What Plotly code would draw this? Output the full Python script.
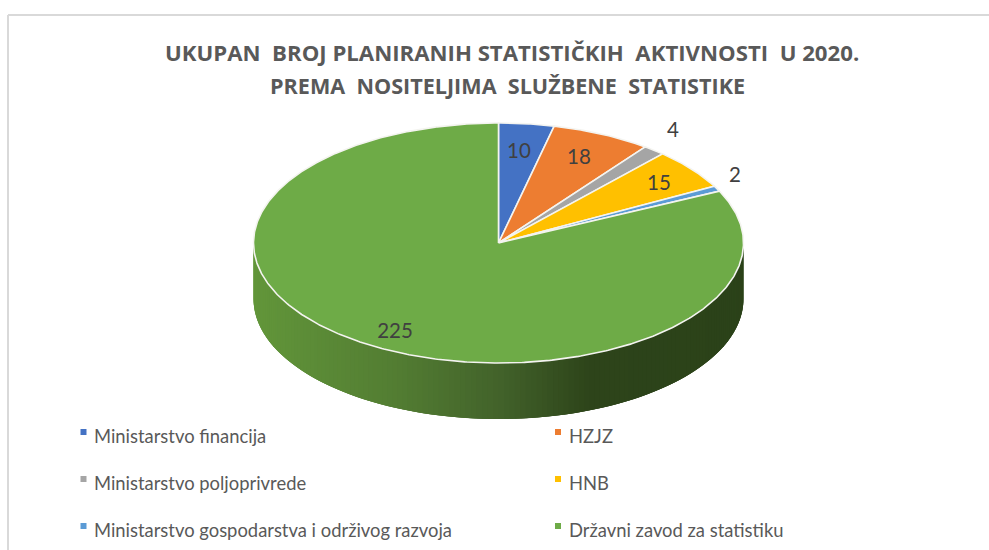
import math
import plotly.graph_objects as go

categories = ["Ministarstvo financija", "HZJZ", "Ministarstvo poljoprivrede", "HNB",
              "Ministarstvo gospodarstva i održivog razvoja", "Državni zavod za statistiku"]
values = [10, 18, 4, 15, 2, 225]
colors = ["#4472C4", "#ED7D31", "#A5A5A5", "#FFC000", "#5B9BD5", "#6EAB47"]
title_lines = ["UKUPAN  BROJ PLANIRANIH STATISTIČKIH  AKTIVNOSTI  U 2020.",
               "PREMA  NOSITELJIMA  SLUŽBENE  STATISTIKE"]

W, H = 989, 550
CX, CY, RX, RY, DEPTH = 498.5, 243, 245, 120, 56
label_pos = [(519, 153), (579, 159), (673, 132), (659, 185), (735, 177), (395, 333)]
legend_pos = [(83.5, 432), (558, 432), (83.5, 479), (558, 479), (83.5, 526), (558, 526)]
title_pos = [(511.5, 52.5), (507.5, 85)]
title_sizes = [22.2, 21.6]
wall_stops = [(253, (98, 150, 58)), (400, (82, 124, 50)), (500, (66, 98, 42)),
              (590, (45, 68, 26)), (745, (43, 66, 25))]


def pt(theta, dy=0.0):
    t = math.radians(theta)
    return CX + RX * math.sin(t), CY - RY * math.cos(t) + dy


def wall_color(x):
    for (x0, c0), (x1, c1) in zip(wall_stops, wall_stops[1:]):
        if x <= x1:
            f = max(0.0, (x - x0) / (x1 - x0))
            return "rgb(%d,%d,%d)" % tuple(round(a + (b - a) * f) for a, b in zip(c0, c1))
    return "rgb(%d,%d,%d)" % wall_stops[-1][1]


fig = go.Figure()

# side wall of the disc, the front half; each strip runs under the next one so no seams show
N = 140
step = 180 / N
for i in range(N):
    a0 = 90 + step * i
    a1 = min(270, a0 + 3 * step)
    angs = [a0, a0 + step, a0 + 2 * step, a1]
    top = [pt(min(a, 270)) for a in angs]
    bottom = [pt(min(a, 270), DEPTH) for a in reversed(angs)]
    p = top + bottom + [top[0]]
    col = wall_color((pt(a0)[0] + pt(a0 + step)[0]) / 2)
    fig.add_trace(go.Scatter(x=[q[0] for q in p], y=[q[1] for q in p], mode="lines",
                             fill="toself", fillcolor=col, line=dict(color=col, width=0),
                             hoverinfo="skip", showlegend=False))

# top face, angles taken from the values
total = sum(values)
cum = 0
for name, v, c in zip(categories, values, colors):
    a0 = 360 * cum / total
    a1 = 360 * (cum + v) / total
    cum += v
    steps = max(4, int((a1 - a0) * 2))
    arc = [pt(a0 + (a1 - a0) * k / steps) for k in range(steps + 1)]
    xs = [CX] + [q[0] for q in arc] + [CX]
    ys = [CY] + [q[1] for q in arc] + [CY]
    fig.add_trace(go.Scatter(x=xs, y=ys, mode="lines", fill="toself", fillcolor=c,
                             line=dict(color="#F4F4F0", width=1.6), name=name,
                             hoverinfo="name", showlegend=False))

# data labels
fig.add_trace(go.Scatter(x=[p[0] for p in label_pos], y=[p[1] for p in label_pos], mode="text",
                         text=[str(v) for v in values], textposition="middle center",
                         textfont=dict(family="Lato, Open Sans, sans-serif", size=20.5, color="#404040"),
                         hoverinfo="skip", showlegend=False))

# legend
fig.add_trace(go.Scatter(x=[p[0] for p in legend_pos], y=[p[1] for p in legend_pos], mode="markers",
                         marker=dict(symbol="square", size=6, color=colors),
                         hoverinfo="skip", showlegend=False))
for (x, y), name in zip(legend_pos, categories):
    fig.add_annotation(x=x + 8.5, y=y + 4, text=name, showarrow=False, xanchor="left", yanchor="middle",
                       font=dict(family="Lato, Open Sans, sans-serif", size=18.4, color="#595959"))

# title
for (x, y), line, s in zip(title_pos, title_lines, title_sizes):
    fig.add_annotation(x=x, y=y, text="<b>%s</b>" % line, showarrow=False, xanchor="center", yanchor="middle",
                       font=dict(family="Open Sans, sans-serif", size=s, color="#595959"))

# chart frame
frame = dict(color="#D9D9D9", width=2)
fig.add_shape(type="line", x0=8, x1=W, y0=15, y1=15, line=frame)
fig.add_shape(type="line", x0=8, x1=8, y0=15, y1=H, line=frame)

fig.update_layout(width=W, height=H, autosize=False, margin=dict(l=0, r=0, t=0, b=0),
                  paper_bgcolor="white", plot_bgcolor="white",
                  xaxis=dict(range=[0, W], visible=False, fixedrange=True),
                  yaxis=dict(range=[H, 0], visible=False, fixedrange=True))
fig.write_html("out.html", config=dict(displayModeBar=False),
               post_script="document.body.style.margin='0';document.body.style.overflow='hidden';")
